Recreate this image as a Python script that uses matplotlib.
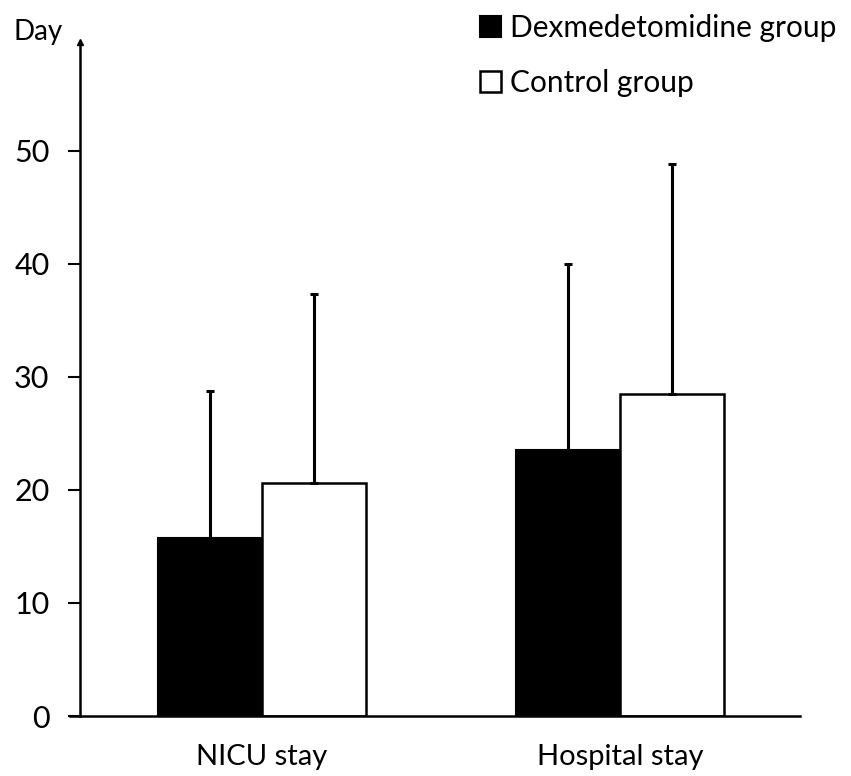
import matplotlib.pyplot as plt
import numpy as np

plt.rcParams['font.family'] = ['Lato', 'DejaVu Sans']

categories = ['NICU stay', 'Hospital stay']
dex_mean = [15.7, 23.5]
dex_sd = [13.0, 16.5]
ctrl_mean = [20.6, 28.5]
ctrl_sd = [16.7, 20.3]
yticks = [0, 10, 20, 30, 40, 50]

fig = plt.figure(figsize=(8.51, 7.76), dpi=100)
ax = fig.add_axes([70 / 851, 1 - 716 / 776, 730 / 851, (716 - 42) / 776])

x = np.arange(len(categories))
w = 0.29
err_kw = dict(lw=2.2, capsize=3, capthick=2.2, ecolor='black')

ax.bar(x - w / 2, dex_mean, w, color='black', edgecolor='black', lw=1.5,
       yerr=[np.zeros(2), dex_sd], error_kw=err_kw, label='Dexmedetomidine group')
ax.bar(x + w / 2, ctrl_mean, w, color='white', edgecolor='black', lw=1.8,
       yerr=[np.zeros(2), ctrl_sd], error_kw=err_kw, label='Control group')

ax.set_xlim(-0.536, 1.503)
ax.set_ylim(0, 59.6)
ax.set_yticks(yticks)
ax.set_xticks(x)
ax.set_xticklabels(categories, fontsize=21)
ax.tick_params(axis='y', labelsize=22, length=9, width=1.5, direction='out', pad=13)
ax.tick_params(axis='x', length=0, pad=20)

for s in ['top', 'right']:
    ax.spines[s].set_visible(False)
ax.spines['left'].set_position(('axes', 10 / 730))
ax.spines['left'].set_linewidth(1.8)
ax.spines['bottom'].set_linewidth(1.8)

# arrow head on the y axis
ax.plot([10 / 730], [1.0], marker='^', ms=5, color='black',
        transform=ax.transAxes, clip_on=False)

fig.text(14 / 851, 1 - 32 / 776, 'Day', fontsize=20, va='center', ha='left')

ax.legend(loc='upper left', bbox_to_anchor=(468 / 851, 1 - 2 / 776),
          bbox_transform=fig.transFigure, frameon=False, fontsize=21.5,
          handlelength=0.7, handleheight=0.7, handletextpad=0.3,
          labelspacing=0.9, borderaxespad=0)

fig.savefig('out.png', dpi=100)
